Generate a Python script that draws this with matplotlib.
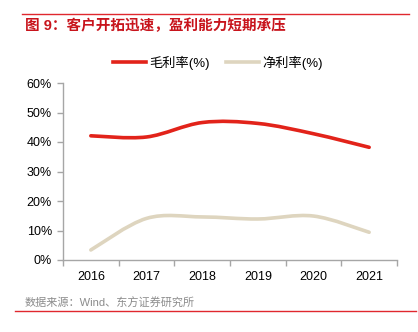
import numpy as np
import matplotlib.pyplot as plt
from matplotlib.path import Path
from matplotlib.patches import PathPatch
from matplotlib.lines import Line2D

plt.rcParams['font.family'] = ['Liberation Sans', 'Noto Sans CJK SC', 'DejaVu Sans']

years = ['2016', '2017', '2018', '2019', '2020', '2021']
gross_margin = [42.1, 41.7, 46.6, 46.3, 42.8, 38.2]
net_margin = [3.4, 14.1, 14.6, 13.9, 14.9, 9.4]

title = '图 9：客户开拓迅速，盈利能力短期承压'
source = '数据来源：Wind、东方证券研究所'
labels = ['毛利率(%)', '净利率(%)']
red = '#E2231A'
tan = '#DED5BF'


def smooth_path(xs, ys):
    # Excel-style smooth line: bezier with catmull-rom control points
    pts = np.column_stack([xs, ys]).astype(float)
    verts = [pts[0]]
    codes = [Path.MOVETO]
    n = len(pts)
    for i in range(n - 1):
        p0 = pts[i - 1] if i > 0 else pts[i]
        p1 = pts[i]
        p2 = pts[i + 1]
        p3 = pts[i + 2] if i + 2 < n else pts[i + 1]
        c1 = p1 + (p2 - p0) / 6
        c2 = p2 - (p3 - p1) / 6
        verts += [c1, c2, p2]
        codes += [Path.CURVE4] * 3
    return Path(verts, codes)


fig = plt.figure(figsize=(4.18, 3.32), dpi=100)
ax = fig.add_axes([63 / 418, 72 / 332, 334 / 418, 177 / 332])

x = np.arange(len(years))
for vals, col in [(gross_margin, red), (net_margin, tan)]:
    p = smooth_path(x, vals)
    ax.add_patch(PathPatch(p, facecolor='none', edgecolor=col, lw=2.6,
                           capstyle='round', joinstyle='round'))

ax.set_xlim(-0.5, len(years) - 0.5)
ax.set_ylim(0, 60)
ax.set_yticks(range(0, 61, 10))
ax.set_yticklabels([f'{v}%' for v in range(0, 61, 10)], fontsize=9)
ax.set_xticks(x)
ax.set_xticklabels(years, fontsize=9)
ax.set_xticks(np.arange(-0.5, len(years)), minor=True)
ax.tick_params(axis='x', which='major', length=0, pad=8)
ax.tick_params(axis='x', which='minor', length=4, color='#A6A6A6', width=1)
ax.tick_params(axis='y', length=4, color='#A6A6A6', width=1, pad=4)
for s in ['top', 'right']:
    ax.spines[s].set_visible(False)
for s in ['left', 'bottom']:
    ax.spines[s].set_color('#A6A6A6')
    ax.spines[s].set_linewidth(1)

handles = [Line2D([], [], color=red, lw=2.6), Line2D([], [], color=tan, lw=2.6)]
fig.legend(handles, labels, loc='center', bbox_to_anchor=(218 / 418, 1 - 63 / 332),
           ncol=2, frameon=False, fontsize=9.5, handlelength=2.5,
           handletextpad=0.3, columnspacing=1.2)

fig.add_artist(Line2D([22 / 418, 409 / 418], [1 - 14 / 332] * 2, color='#E0282E', lw=1))
fig.text(25 / 418, 1 - 26 / 332, title, color='#C8141C', fontsize=10.5,
         fontweight='bold', va='center', ha='left')
fig.text(25 / 418, 1 - 303 / 332, source, color='#8C8C8C', fontsize=8,
         va='center', ha='left')
fig.add_artist(Line2D([15 / 418, 416 / 418], [1 - 311 / 332] * 2, color='#E0282E', lw=1))

fig.savefig('out.png', dpi=100)
